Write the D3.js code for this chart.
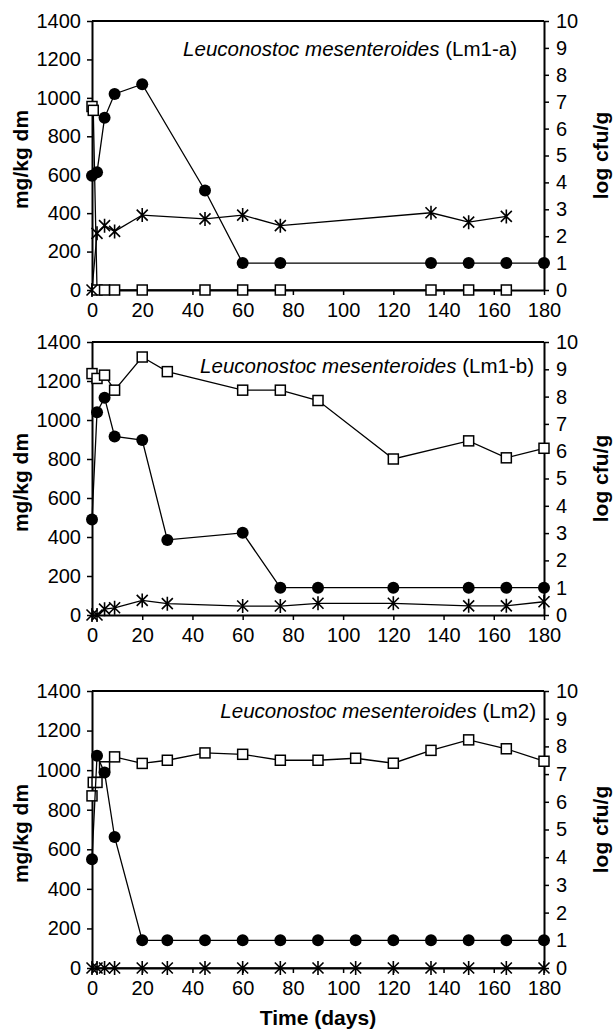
<!DOCTYPE html>
<html lang="en">
<head>
<meta charset="UTF-8">
<title>Leuconostoc mesenteroides</title>
<script src="https://d3js.org/d3.v7.min.js"></script>
<style>
  body { margin: 0; background: #fff; }
  svg { display: block; font-family: "Liberation Sans", Arial, sans-serif; }
  .tick text { font-size: 20px; fill: #000; }
  .axis-title { font-size: 21px; font-weight: bold; }
</style>
</head>
<body>
<svg width="615" height="1030"></svg>
<script>
// x tick values (days)
const xTicks = [0, 20, 40, 60, 80, 100, 120, 140, 160, 180];
const leftTicks = [0, 200, 400, 600, 800, 1000, 1200, 1400];
const rightTicks = d3.range(0, 11);

// Lm1-a
const aSqDays = [0, 0.5, 2, 5, 9, 20, 45, 60, 75, 135, 150, 165];
const aSqVals = [955, 935, 0, 0, 0, 0, 0, 0, 0, 0, 0, 0];
const aStDays = [0, 2, 5, 9, 20, 45, 60, 75, 135, 150, 165];
const aStVals = [0, 295, 335, 305, 390, 370, 390, 335, 402, 353, 383];
const aCiDays = [0, 2, 5, 9, 20, 45, 60, 75, 135, 150, 165, 180];
const aCiVals = [4.25, 4.38, 6.4, 7.29, 7.65, 3.7, 1, 1, 1, 1, 1, 1];

// Lm1-b
const bSqDays = [0, 2, 5, 9, 20, 30, 60, 75, 90, 120, 150, 165, 180];
const bSqVals = [1238, 1213, 1230, 1153, 1323, 1248, 1153, 1153, 1100, 800, 893, 806, 855];
const bStDays = [0, 2, 5, 9, 20, 30, 60, 75, 90, 120, 150, 165, 180];
const bStVals = [0, 0, 30, 37, 75, 58, 46, 46, 60, 60, 47, 47, 68];
const bCiDays = [0, 2, 5, 9, 20, 30, 60, 75, 90, 120, 150, 165, 180];
const bCiVals = [3.5, 7.43, 7.96, 6.54, 6.41, 2.75, 3.01, 1, 1, 1, 1, 1, 1];

// Lm2
const cSqDays = [0, 0.5, 2, 5, 9, 20, 30, 45, 60, 75, 90, 105, 120, 135, 150, 165, 180];
const cSqVals = [870, 938, 938, 1017, 1067, 1034, 1050, 1087, 1080, 1050, 1050, 1060, 1035, 1100, 1153, 1108, 1045];
const cStDays = [0, 2, 5, 9, 20, 30, 45, 60, 75, 90, 105, 120, 135, 150, 165, 180];
const cStVals = [0, 0, 0, 0, 0, 0, 0, 0, 0, 0, 0, 0, 0, 0, 0, 0];
const cCiDays = [0, 2, 5, 9, 20, 30, 45, 60, 75, 90, 105, 120, 135, 150, 165, 180];
const cCiVals = [3.93, 7.66, 7.06, 4.73, 1, 1, 1, 1, 1, 1, 1, 1, 1, 1, 1, 1];

const panels = [
  { label: "(Lm1-a)", top: 21, bottom: 290, titleX: 517, titleY: 56,
    sq: [aSqDays, aSqVals], st: [aStDays, aStVals], ci: [aCiDays, aCiVals] },
  { label: "(Lm1-b)", top: 342, bottom: 615, titleX: 534, titleY: 373,
    sq: [bSqDays, bSqVals], st: [bStDays, bStVals], ci: [bCiDays, bCiVals] },
  { label: "(Lm2)", top: 691, bottom: 968, titleX: 536, titleY: 718,
    sq: [cSqDays, cSqVals], st: [cStDays, cStVals], ci: [cCiDays, cCiVals] }
];

const left = 92, right = 544;
const svg = d3.select("svg");

const x = d3.scaleLinear().domain([0, 180]).range([left, right]);

function zip(days, vals) {
  return days.map((d, i) => ({ day: d, v: vals[i] }));
}

const starPath = "M-5.5,-5.5L5.5,5.5M-5.5,5.5L5.5,-5.5M0,-7L0,7";

panels.forEach(p => {
  const g = svg.append("g");
  const yL = d3.scaleLinear().domain([0, 1400]).range([p.bottom, p.top]);
  const yR = d3.scaleLinear().domain([0, 10]).range([p.bottom, p.top]);

  // axes
  const xAx = g.append("g")
    .attr("transform", `translate(0,${p.bottom})`)
    .call(d3.axisBottom(x).tickValues(xTicks).tickFormat(d3.format("d"))
      .tickSize(5).tickSizeOuter(0).tickPadding(8));
  const lAx = g.append("g")
    .attr("transform", `translate(${left},0)`)
    .call(d3.axisLeft(yL).tickValues(leftTicks).tickFormat(d3.format("d"))
      .tickSize(5).tickSizeOuter(0).tickPadding(6));
  const rAx = g.append("g")
    .attr("transform", `translate(${right},0)`)
    .call(d3.axisRight(yR).tickValues(rightTicks).tickFormat(d3.format("d"))
      .tickSize(5).tickSizeOuter(0).tickPadding(7));
  [xAx, lAx, rAx].forEach(a => {
    a.select(".domain").attr("stroke", "#000").attr("stroke-width", 2);
    a.selectAll(".tick line").attr("stroke", "#000").attr("stroke-width", 1.5);
    a.attr("font-family", null).attr("font-size", null);
  });
  // top border
  g.append("line")
    .attr("x1", left).attr("x2", right)
    .attr("y1", p.top).attr("y2", p.top)
    .attr("stroke", "#000").attr("stroke-width", 2);

  // axis titles
  g.append("text").attr("class", "axis-title")
    .attr("transform", `translate(28,${(p.top + p.bottom) / 2 + 4}) rotate(-90)`)
    .attr("text-anchor", "middle").text("mg/kg dm");
  g.append("text").attr("class", "axis-title")
    .attr("transform", `translate(608,${(p.top + p.bottom) / 2}) rotate(-90)`)
    .attr("text-anchor", "middle").text("log cfu/g");

  // panel title
  const t = g.append("text")
    .attr("x", p.titleX).attr("y", p.titleY)
    .attr("text-anchor", "end").attr("font-size", 20.5);
  t.append("tspan").attr("font-style", "italic").text("Leuconostoc mesenteroides");
  t.append("tspan").text(" " + p.label);

  const line = y => d3.line().x(d => x(d.day)).y(d => y(d.v));

  // squares
  const sq = zip(p.sq[0], p.sq[1]);
  g.append("path").datum(sq).attr("d", line(yL))
    .attr("fill", "none").attr("stroke", "#000").attr("stroke-width", 1.3);
  g.selectAll(null).data(sq).enter().append("rect")
    .attr("x", d => x(d.day) - 5).attr("y", d => yL(d.v) - 5)
    .attr("width", 10).attr("height", 10)
    .attr("fill", "#fff").attr("stroke", "#000").attr("stroke-width", 1.5);

  // asterisks
  const st = zip(p.st[0], p.st[1]);
  g.append("path").datum(st).attr("d", line(yL))
    .attr("fill", "none").attr("stroke", "#000").attr("stroke-width", 1.3);
  g.selectAll(null).data(st).enter().append("path")
    .attr("transform", d => `translate(${x(d.day)},${yL(d.v)})`)
    .attr("d", starPath)
    .attr("fill", "none").attr("stroke", "#000").attr("stroke-width", 1.6);

  // circles (log cfu/g)
  const ci = zip(p.ci[0], p.ci[1]);
  g.append("path").datum(ci).attr("d", line(yR))
    .attr("fill", "none").attr("stroke", "#000").attr("stroke-width", 1.3);
  g.selectAll(null).data(ci).enter().append("circle")
    .attr("cx", d => x(d.day)).attr("cy", d => yR(d.v)).attr("r", 6)
    .attr("fill", "#000");
});

svg.append("text").attr("class", "axis-title")
  .attr("x", (left + right) / 2).attr("y", 1025)
  .attr("text-anchor", "middle").text("Time (days)");
</script>
</body>
</html>
